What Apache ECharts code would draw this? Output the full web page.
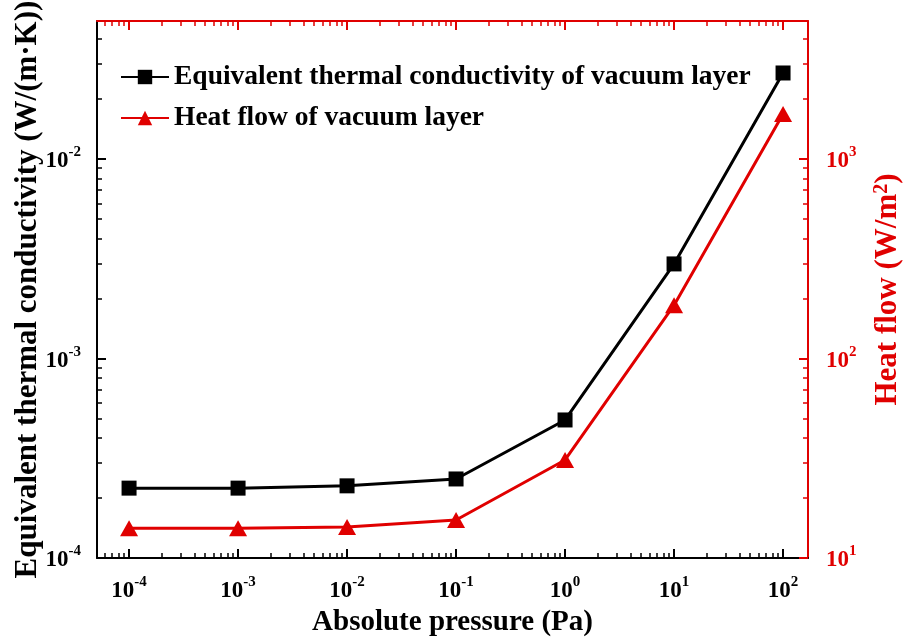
<!DOCTYPE html>
<html>
<head>
<meta charset="utf-8">
<script src="https://cdn.jsdelivr.net/npm/echarts@6/dist/echarts.min.js"></script>
<style>
  html, body { margin: 0; padding: 0; background: #fff; }
  #chart { width: 912px; height: 642px; }
</style>
</head>
<body>
<div id="chart"></div>
<script>
// Absolute pressure (Pa) at each measurement
const pressure = [1e-4, 1e-3, 1e-2, 1e-1, 1, 10, 100];
// Equivalent thermal conductivity, W/(m·K)
const conductivity = [2.24e-4, 2.24e-4, 2.30e-4, 2.49e-4, 4.92e-4, 2.98e-3, 2.70e-2];
// Heat flow through the vacuum layer, W/m²
const heatFlow = [14.1, 14.1, 14.3, 15.5, 31.0, 185, 1683];

// Decade ticks carrying labels
const xMajorTicks = [1e-4, 1e-3, 1e-2, 1e-1, 1, 10, 100];
const yLeftMajorTicks = [1e-4, 1e-3, 1e-2];
const yRightMajorTicks = [10, 100, 1000];

// Axis ranges
const xRange = [5.08e-5, 169.4];
const yLeftRange = [1e-4, 0.0492];
const yRightRange = [10, 4920];

const BLACK = '#000000';
const RED = '#e00000';
const FONT = '"Liberation Serif", "Times New Roman", serif';

// 2..9 multiples of each decade, kept within a range
function minorTicks(range) {
  const out = [];
  const lo = Math.floor(Math.log10(range[0]));
  const hi = Math.ceil(Math.log10(range[1]));
  for (let e = lo; e <= hi; e++) {
    for (let m = 2; m <= 9; m++) {
      const v = m * Math.pow(10, e);
      if (v > range[0] && v < range[1]) out.push(v);
    }
  }
  return out;
}

function powerLabel(v) {
  const e = Math.round(Math.log10(v));
  return '{b|10}{s|' + e + '}';
}

function labelRich(color) {
  return {
    b: { fontFamily: FONT, fontWeight: 'bold', fontSize: 23, lineHeight: 28, color: color, verticalAlign: 'bottom' },
    s: { fontFamily: FONT, fontWeight: 'bold', fontSize: 15, lineHeight: 15, color: color, verticalAlign: 'top' }
  };
}

function baseLogAxis(range, position, color) {
  return {
    type: 'log',
    logBase: 10,
    position: position,
    min: range[0],
    max: range[1],
    splitLine: { show: false },
    minorTick: { show: false },
    axisLine: { show: true, lineStyle: { color: color, width: 2 } },
    axisTick: { show: true, inside: true, length: 9, lineStyle: { color: color, width: 2 } },
    axisLabel: { show: false }
  };
}

function majorAxis(range, position, color, ticks, showLabels, margin) {
  const a = baseLogAxis(range, position, color);
  a.axisTick.customValues = ticks;
  if (showLabels) {
    a.axisLabel = {
      show: true,
      customValues: ticks,
      margin: margin,
      formatter: powerLabel,
      rich: labelRich(color)
    };
  }
  return a;
}

function minorAxis(range, position, color) {
  const a = baseLogAxis(range, position, color);
  a.axisLine = { show: false };
  a.axisTick = { show: true, inside: true, length: 5, customValues: minorTicks(range), lineStyle: { color: color, width: 1.5 } };
  return a;
}

const xAxes = [
  Object.assign(majorAxis(xRange, 'bottom', BLACK, xMajorTicks, true, 17), {
    name: 'Absolute pressure (Pa)',
    nameLocation: 'middle',
    nameGap: 50,
    nameMoveOverlap: false,
    nameTextStyle: { fontFamily: FONT, fontWeight: 'bold', fontSize: 29, color: BLACK }
  }),
  minorAxis(xRange, 'bottom', BLACK),
  majorAxis(xRange, 'top', RED, xMajorTicks, false, 0),
  minorAxis(xRange, 'top', RED)
];

const yAxes = [
  Object.assign(majorAxis(yLeftRange, 'left', BLACK, yLeftMajorTicks, true, 16), {
    name: 'Equivalent thermal conductivity (W/(m·K))',
    nameLocation: 'middle',
    nameRotate: 90,
    nameGap: 54,
    nameMoveOverlap: false,
    nameTextStyle: { fontFamily: FONT, fontWeight: 'bold', fontSize: 31, color: BLACK }
  }),
  minorAxis(yLeftRange, 'left', BLACK),
  Object.assign(majorAxis(yRightRange, 'right', RED, yRightMajorTicks, true, 18), {
    name: 'Heat flow (W/m{s|2})',
    nameLocation: 'middle',
    nameRotate: 90,
    nameGap: 64,
    nameMoveOverlap: false,
    nameTextStyle: {
      fontFamily: FONT, fontWeight: 'bold', fontSize: 31, color: RED,
      rich: {
        s: { fontFamily: FONT, fontWeight: 'bold', fontSize: 20, color: RED, verticalAlign: 'top', lineHeight: 20 }
      }
    }
  }),
  minorAxis(yRightRange, 'right', RED)
];

const chart = echarts.init(document.getElementById('chart'), null, { renderer: 'canvas' });

chart.setOption({
  animation: false,
  backgroundColor: '#ffffff',
  grid: { left: 97, right: 104, top: 21, bottom: 84, containLabel: false, outerBoundsMode: 'none' },
  legend: {
    left: 120,
    top: 63,
    padding: 0,
    orient: 'vertical',
    itemWidth: 48,
    itemHeight: 18,
    itemGap: 13,
    textStyle: { fontFamily: FONT, fontWeight: 'bold', fontSize: 27.5, color: BLACK },
    data: ['Equivalent thermal conductivity of vacuum layer', 'Heat flow of vacuum layer']
  },
  xAxis: xAxes,
  yAxis: yAxes,
  series: [
    {
      name: 'Equivalent thermal conductivity of vacuum layer',
      type: 'line',
      xAxisIndex: 0,
      yAxisIndex: 0,
      data: pressure.map((p, i) => [p, conductivity[i]]),
      symbol: 'rect',
      symbolSize: 15,
      lineStyle: { color: BLACK, width: 3 },
      itemStyle: { color: BLACK },
      z: 3
    },
    {
      name: 'Heat flow of vacuum layer',
      type: 'line',
      xAxisIndex: 0,
      yAxisIndex: 2,
      data: pressure.map((p, i) => [p, heatFlow[i]]),
      symbol: 'triangle',
      symbolSize: [18, 16],
      lineStyle: { color: RED, width: 3 },
      itemStyle: { color: RED },
      z: 2
    }
  ]
});
</script>
</body>
</html>
